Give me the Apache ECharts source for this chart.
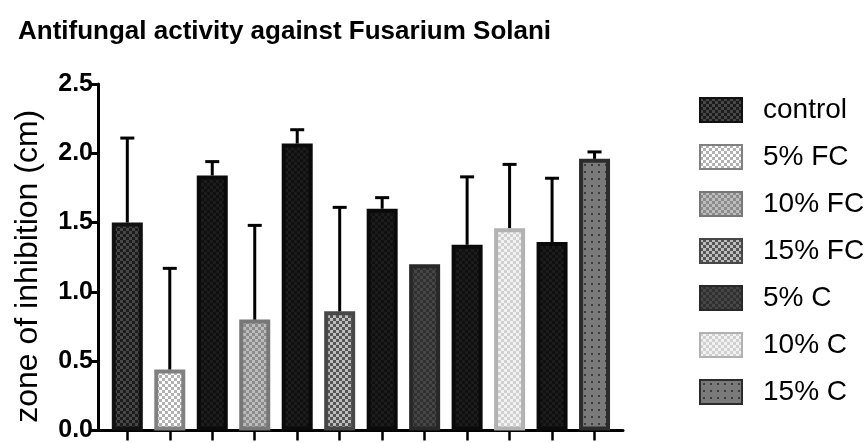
<!DOCTYPE html>
<html>
<head>
<meta charset="utf-8">
<script src="https://cdn.jsdelivr.net/npm/echarts@6/dist/echarts.min.js"></script>
<style>html,body{margin:0;padding:0;background:#fff;}#c{width:868px;height:443px;}</style>
</head>
<body>
<div id="c"></div>
<script>
// ---- data ----
const barPositions = [0,1,2,3,4,5,6,7,8,9,10,11];
const barValues = [1.50, 0.44, 1.84, 0.80, 2.07, 0.86, 1.60, 1.20, 1.34, 1.46, 1.36, 1.96];
const barErrors = [0.61, 0.73, 0.10, 0.68, 0.10, 0.75, 0.08, 0.00, 0.49, 0.46, 0.46, 0.05];
// which style each bar uses ("black" = not in legend)
const barGroups = ['control','5% FC','black','10% FC','black','15% FC','black','5% C','black','10% C','black','15% C'];
const legendNames = ['control','5% FC','10% FC','15% FC','5% C','10% C','15% C'];
const yTicks = [0, 0.5, 1.0, 1.5, 2.0, 2.5];

// ---- styles ----
function checker(c1, c2, cell) {
  const cv = document.createElement('canvas');
  cv.width = cell * 2; cv.height = cell * 2;
  const g = cv.getContext('2d');
  g.fillStyle = c1; g.fillRect(0, 0, cell * 2, cell * 2);
  g.fillStyle = c2; g.fillRect(0, 0, cell, cell); g.fillRect(cell, cell, cell, cell);
  return { image: cv, repeat: 'repeat' };
}
function dots(bg, dot, step) {
  const cv = document.createElement('canvas');
  cv.width = step; cv.height = step;
  const g = cv.getContext('2d');
  g.fillStyle = bg; g.fillRect(0, 0, step, step);
  g.fillStyle = dot; g.fillRect(3, 3, 2, 2);
  return { image: cv, repeat: 'repeat' };
}
const styles = {
  'control': { color: checker('#1c1c1c', '#474747', 3), borderColor: '#111', borderWidth: 4 },
  '5% FC':   { color: checker('#ffffff', '#b2b2b2', 3), borderColor: '#808080', borderWidth: 4 },
  '10% FC':  { color: checker('#8c8c8c', '#bcbcbc', 3), borderColor: '#777', borderWidth: 4 },
  '15% FC':  { color: checker('#555555', '#bdbdbd', 3), borderColor: '#474747', borderWidth: 4 },
  '5% C':    { color: checker('#303030', '#464646', 3), borderColor: '#282828', borderWidth: 4 },
  '10% C':   { color: checker('#f2f2f2', '#d0d0d0', 3), borderColor: '#b2b2b2', borderWidth: 4 },
  '15% C':   { color: dots('#7a7a7a', '#3c3c3c', 7), borderColor: '#2c2c2c', borderWidth: 4 },
  'black':   { color: checker('#101010', '#1c1c1c', 3), borderColor: '#0a0a0a', borderWidth: 4 }
};

const FONT = 'Liberation Sans, Arial, sans-serif';
const BW = 31;

const barData = barPositions.map((x, i) => ({
  value: [x, barValues[i]],
  itemStyle: styles[barGroups[i]]
}));
const errData = barPositions.map((x, i) => [x, barValues[i], barValues[i] + barErrors[i]]);

const legendSeries = legendNames.map(n => ({
  name: n, type: 'bar', stack: 'one', barWidth: BW, data: [], itemStyle: styles[n]
}));

const chart = echarts.init(document.getElementById('c'), null, { renderer: 'canvas' });
chart.setOption({
  animation: false,
  backgroundColor: '#fff',
  title: {
    text: 'Antifungal activity against Fusarium Solani',
    left: 13, top: 14,
    textStyle: { fontFamily: FONT, fontSize: 26, fontWeight: 'bold', color: '#000' }
  },
  legend: {
    data: legendNames,
    orient: 'vertical',
    left: 694, top: 91,
    itemWidth: 42, itemHeight: 24,
    itemGap: 19,
    icon: 'rect',
    textStyle: { fontFamily: FONT, fontSize: 28, color: '#000', padding: [0,0,0,16] }
  },
  grid: { left: 98, right: 245, top: 84, bottom: 10, containLabel: false },
  xAxis: {
    type: 'value',
    min: -0.69, max: 11.67,
    splitLine: { show: false },
    axisLine: { show: true, onZero: false, lineStyle: { color: '#000', width: 3 } },
    axisTick: { show: true, customValues: barPositions, length: 10, lineStyle: { color: '#000', width: 2.5 } },
    axisLabel: { show: false }
  },
  yAxis: {
    type: 'value',
    min: 0, max: 2.5, interval: 0.5,
    name: 'zone of inhibition (cm)',
    nameLocation: 'middle',
    nameRotate: 90,
    nameGap: 54,
    nameTextStyle: { fontFamily: FONT, fontSize: 32, color: '#000', padding: [0, 18, 0, 0] },
    splitLine: { show: false },
    axisLine: { show: true, onZero: false, lineStyle: { color: '#000', width: 3 } },
    axisTick: { show: true, length: 7, lineStyle: { color: '#000', width: 3 } },
    axisLabel: {
      fontFamily: FONT, fontSize: 25, fontWeight: 'bold', color: '#000', margin: 5,
      formatter: v => v.toFixed(1)
    }
  },
  series: [
    {
      name: 'bars', type: 'bar', stack: 'one', barWidth: BW, data: barData, z: 2
    },
    {
      name: 'err', type: 'custom', z: 3,
      data: errData,
      renderItem: function (params, api) {
        const x = api.value(0), v = api.value(1), top = api.value(2);
        if (top - v < 0.005) return null;
        const p0 = api.coord([x, v]);
        const p1 = api.coord([x, top]);
        const st = { stroke: '#000', lineWidth: 3 };
        return {
          type: 'group',
          children: [
            { type: 'line', shape: { x1: p0[0], y1: p0[1], x2: p1[0], y2: p1[1] }, style: st },
            { type: 'line', shape: { x1: p1[0] - 7, y1: p1[1], x2: p1[0] + 7, y2: p1[1] }, style: st }
          ]
        };
      }
    }
  ].concat(legendSeries)
});
</script>
</body>
</html>
